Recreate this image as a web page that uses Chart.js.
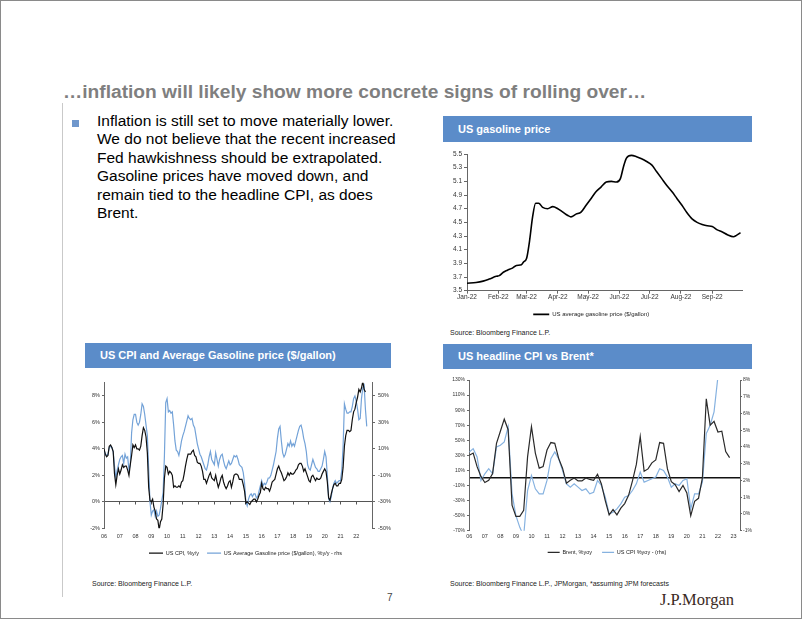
<!DOCTYPE html>
<html>
<head>
<meta charset="utf-8">
<script src="https://cdn.jsdelivr.net/npm/chart.js@4.4.0/dist/chart.umd.min.js"></script>
<style>
html,body{margin:0;padding:0;background:#fff;}
body{width:802px;height:620px;position:relative;overflow:hidden;font-family:Arial,"Liberation Sans",sans-serif;}
.frame{position:absolute;left:0;top:0;width:800px;height:617px;border:1px solid #8a8a8a;}
.vline{position:absolute;left:62px;top:103px;width:1px;height:494px;background:#c9c9c9;}
.title{position:absolute;left:63px;top:80px;font-size:19.2px;font-weight:bold;color:#7f7f7f;white-space:nowrap;line-height:24px;}
.bullet{position:absolute;left:72px;top:120px;width:7px;height:7px;background:#6f97cc;}
.text{position:absolute;left:97px;top:112px;font-size:15.5px;line-height:18.4px;color:#000;white-space:nowrap;}
.bar{position:absolute;height:25px;background:#5b8cc9;color:#fff;font-weight:bold;font-size:11px;line-height:25px;padding-left:15px;box-sizing:border-box;white-space:nowrap;}
.src{position:absolute;font-size:7px;color:#222;white-space:nowrap;}
.page{position:absolute;left:387px;top:592px;font-size:10px;color:#444;}
.logo{position:absolute;left:660px;top:590px;font-family:"Liberation Serif","DejaVu Serif",serif;font-size:16.5px;color:#3b2a1e;white-space:nowrap;}
canvas{position:absolute;}
</style>
</head>
<body>
<div class="frame"></div>
<div class="vline"></div>
<div class="title">…inflation will likely show more concrete signs of rolling over…</div>
<div class="bullet"></div>
<div class="text">Inflation is still set to move materially lower.<br>We do not believe that the recent increased<br>Fed hawkishness should be extrapolated.<br>Gasoline prices have moved down, and<br>remain tied to the headline CPI, as does<br>Brent.</div>

<div class="bar" style="left:443px;top:116px;width:309px;height:26px;line-height:26px;">US gasoline price</div>
<div class="bar" style="left:85px;top:343px;width:306px;">US CPI and Average Gasoline price ($/gallon)</div>
<div class="bar" style="left:443px;top:344px;width:309px;">US headline CPI vs Brent*</div>

<canvas id="c1" width="327" height="183" style="left:440px;top:145px;"></canvas>
<canvas id="c2" width="323" height="194" style="left:84px;top:372px;"></canvas>
<canvas id="c3" width="322" height="196" style="left:446px;top:370px;"></canvas>

<div class="src" style="left:450px;top:329px;">Source: Bloomberg Finance L.P.</div>
<div class="src" style="left:92px;top:580px;">Source: Bloomberg Finance L.P.</div>
<div class="src" style="left:450px;top:580px;">Source: Bloomberg Finance L.P., JPMorgan, *assuming JPM forecasts</div>
<div class="page">7</div>
<div class="logo">J.P.Morgan</div>

<script>
// ---------------- Chart 1: US gasoline price, 2022 (x = day of year) ----------------
const gasDays  = [0,9,16,22,29,32,36,40,45,49,54,56,59,62,65,68,71,75,80,85,90,95,100,103,108,113,118,123,128,133,138,143,148,152,155,158,163,168,173,178,183,188,193,198,203,208,213,218,223,228,233,238,243,248,253,258,264,267,271];
const gasPrice = [3.61,3.62,3.64,3.67,3.71,3.72,3.77,3.80,3.83,3.87,3.88,3.92,3.97,4.23,4.58,4.78,4.78,4.72,4.70,4.73,4.70,4.65,4.60,4.58,4.62,4.65,4.75,4.85,4.95,5.02,5.09,5.10,5.09,5.14,5.31,5.44,5.48,5.46,5.43,5.39,5.34,5.24,5.14,5.04,4.95,4.85,4.75,4.64,4.55,4.50,4.47,4.45,4.44,4.39,4.36,4.32,4.29,4.31,4.35];
const monthStarts = [0,31,59,90,120,151,181,212,243];
const monthLabels = ['Jan-22','Feb-22','Mar-22','Apr-22','May-22','Jun-22','Jul-22','Aug-22','Sep-22'];
const gasTicks = [3.5,3.7,3.9,4.1,4.3,4.5,4.7,4.9,5.1,5.3,5.5];

// ---------------- Chart 2: US CPI y/y (lhs) and gasoline price y/y (rhs), monthly from Jan 2006 ----------------
const cpiMonthly = [
 4.0,3.6,3.4,3.5,4.2,4.3,4.1,3.8,2.1,1.3,2.0,2.5,   // 2006
 2.1,2.4,2.8,2.6,2.7,2.7,2.4,2.0,2.8,3.5,4.3,4.1,   // 2007
 4.3,4.0,4.0,3.9,4.2,5.0,5.6,5.4,4.9,3.7,1.1,0.1,   // 2008
 0.0,0.2,-0.4,-0.7,-1.3,-1.4,-2.1,-1.5,-1.3,-0.2,1.8,2.7, // 2009
 2.6,2.1,2.3,2.2,2.0,1.1,1.2,1.1,1.1,1.2,1.1,1.5,   // 2010
 1.6,2.1,2.7,3.2,3.6,3.6,3.6,3.8,3.9,3.5,3.4,3.0,   // 2011
 2.9,2.9,2.7,2.3,1.7,1.7,1.4,1.7,2.0,2.2,1.8,1.7,   // 2012
 1.6,2.0,1.5,1.1,1.4,1.8,2.0,1.5,1.2,1.0,1.2,1.5,   // 2013
 1.6,1.1,1.5,2.0,2.1,2.1,2.0,1.7,1.7,1.7,1.3,0.8,   // 2014
 -0.1,0.0,-0.1,-0.2,0.0,0.1,0.2,0.2,0.0,0.2,0.5,0.7, // 2015
 1.4,1.0,0.9,1.1,1.0,1.0,0.8,1.1,1.5,1.6,1.7,2.1,   // 2016
 2.5,2.7,2.4,2.2,1.9,1.6,1.7,1.9,2.2,2.0,2.2,2.1,   // 2017
 2.1,2.2,2.4,2.5,2.8,2.9,2.9,2.7,2.3,2.5,2.2,1.9,   // 2018
 1.6,1.5,1.9,2.0,1.8,1.6,1.8,1.7,1.7,1.8,2.1,2.3,   // 2019
 2.5,2.3,1.5,0.3,0.1,0.6,1.0,1.3,1.4,1.2,1.2,1.4,   // 2020
 1.4,1.7,2.6,4.2,5.0,5.4,5.4,5.3,5.4,6.2,6.8,7.0,   // 2021
 7.5,7.9,8.5,8.3,8.6,9.1,8.5,8.3                    // 2022
];
const gasYoYMonthly = [
 9,6,5,6,11,12,11,8,-3,-12,-6,-2,          // 2006
 2,4,5,-1,6,3,4,-6,-2,22,32,36,            // 2007
 36,30,28,30,36,44,42,36,28,20,-5,-30,     // 2008
 -40,-37,-36,-41,-37,-41,-40,-35,-29,-23,5,45, // 2009
 48,38,39,37,38,28,16,9,8,5,10,16,         // 2010
 20,23,27,31,35,33,32,33,28,26,20,14,      // 2011
 10,6,4,1,-2,-5,-6,-2,4,8,2,0,             // 2012
 -2,7,2,-3,2,5,6,1,-3,-5,-2,1,             // 2013
 -2,-1,2,5,4,5,2,-2,-3,-4,-8,-16,          // 2014
 -30,-33,-28,-25,-24,-26,-24,-24,-27,-26,-22,-18, // 2015
 -14,-18,-16,-17,-15,-12,-12,-10,-6,-2,3,8,  // 2016
 18,25,27,16,7,4,6,10,14,12,16,12,         // 2017
 14,12,16,20,24,27,28,24,18,14,8,-2,       // 2018
 -5,-6,-2,2,-1,-4,-5,-7,-7,-5,-3,2,        // 2019
 8,4,-10,-28,-30,-26,-20,-16,-14,-16,-15,-14, // 2020
 -14,-6,12,44,40,37,37,38,38,42,48,50,     // 2021
 46,40,32,33,48,56,58,40,27                // 2022
];
const yearTicks2 = [2006,2007,2008,2009,2010,2011,2012,2013,2014,2015,2016,2017,2018,2019,2020,2021,2022];
const cpiTicks2 = [-2,0,2,4,6,8];
const gasTicks2 = [-50,-30,-10,10,30,50];

// ---------------- Chart 3: Brent %yoy (lhs) and US CPI %yoy (rhs), quarterly from 2006 Q1 ----------------
const brentQuarterly = [
 30,33,15,2,  -6,-3,6,46,  62,78,64,-36,  -51,-51,-43,28,  68,33,13,15,  37,47,46,26,
 13,-7,-3,0,  -4,-4,0,-2,  -3,5,-8,-30,  -49,-42,-49,-40,  -34,-23,-4,18,  55,9,12,20,
 24,47,46,12,  -5,-9,-18,-10,  -20,-50,-31,-27,  0,105,70,75,  61,62,35,27
];
const cpiQuarterly = [
 3.7,3.9,3.4,2.0,  2.4,2.7,2.4,4.0,  4.1,4.3,5.2,1.2,  -0.1,-0.8,-1.3,1.4,  2.3,1.5,1.2,1.2,  2.0,3.3,3.7,3.3,
 2.6,1.8,1.6,1.8,  1.6,1.4,1.5,1.2,  1.3,2.0,1.7,1.0,  0.0,0.1,0.3,0.6,  1.0,1.1,1.4,1.8,  2.5,1.9,2.0,2.1,
 2.2,2.7,2.6,2.2,  1.6,1.8,1.7,2.0,  2.1,0.3,1.2,1.2,  1.9,4.8,5.3,6.1,  8.2,8.7
];
const yearTicks3 = [2006,2007,2008,2009,2010,2011,2012,2013,2014,2015,2016,2017,2018,2019,2020,2021,2022,2023];
const brentTicks3 = [-70,-50,-30,-10,10,30,50,70,90,110,130];
const cpiTicks3 = [-1,0,1,2,3,4,5,6,7,8];

// ---------------- helpers ----------------
const FONT = 'Arial, "Liberation Sans", sans-serif';
Chart.defaults.font.family = FONT;
Chart.defaults.color = '#333';
const setTicks = arr => (s => { s.ticks = arr.map(v => ({value: v})); });
const yy = v => String(Math.round(v) % 100).padStart(2, '0');
const startYear = 2006;

// Chart 1
new Chart(document.getElementById('c1'), {
  type: 'line',
  data: { datasets: [{
    label: 'US average gasoline price ($/gallon)',
    data: gasDays.map((d, i) => ({x: d, y: gasPrice[i]})),
    borderColor: '#000', borderWidth: 1.6, pointRadius: 0, cubicInterpolationMode: 'monotone', fill: false
  }]},
  options: {
    responsive: false, animation: false,
    layout: { padding: {top: 9, right: 24.5, bottom: 0.6, left: 0} },
    plugins: {
      legend: { position: 'bottom', labels: { usePointStyle: true, pointStyle: 'line', pointStyleWidth: 16, boxHeight: 6, font: {size: 6}, padding: 10.7, color: '#222' } },
      tooltip: { enabled: false }
    },
    scales: {
      x: { type: 'linear', min: 0, max: 273,
        afterBuildTicks: setTicks(monthStarts),
        ticks: { callback: v => monthLabels[monthStarts.indexOf(v)], font: {size: 6.5}, padding: 0, maxRotation: 0, autoSkip: false, color: '#333' },
        grid: { display: true, drawOnChartArea: false, tickLength: 3, color: '#666' },
        border: { color: '#666', width: 1 },
        afterFit: s => { s.height = 10; } },
      y: { min: 3.5, max: 5.5,
        afterBuildTicks: setTicks(gasTicks),
        ticks: { callback: v => v.toFixed(1), font: {size: 6.5}, padding: 2, color: '#333' },
        grid: { display: true, drawOnChartArea: false, tickLength: 3, color: '#666' },
        border: { color: '#666', width: 1 },
        afterFit: s => { s.width = 27; } }
    }
  }
});

// Chart 2
new Chart(document.getElementById('c2'), {
  type: 'line',
  data: { datasets: [
    { label: 'US CPI, %y/y', yAxisID: 'y',
      data: cpiMonthly.map((v, i) => ({x: startYear + i / 12, y: v})),
      borderColor: '#111', borderWidth: 1.2, pointRadius: 0, tension: 0 },
    { label: 'US Average Gasoline price ($/gallon), %y/y - rhs', yAxisID: 'y2',
      data: gasYoYMonthly.map((v, i) => ({x: startYear + i / 12, y: v})),
      borderColor: '#74a3d8', borderWidth: 1.2, pointRadius: 0, tension: 0 }
  ]},
  options: {
    responsive: false, animation: false,
    layout: { padding: {top: 10.7, right: 0, bottom: 0.2, left: 0} },
    plugins: {
      legend: { position: 'bottom', labels: { usePointStyle: true, pointStyle: 'line', pointStyleWidth: 14, boxHeight: 5.5, font: {size: 5.5}, padding: 8, color: '#222' } },
      tooltip: { enabled: false }
    },
    scales: {
      x: { type: 'linear', min: 2006, max: 2023, position: 'bottom',
        afterBuildTicks: setTicks(yearTicks2),
        ticks: { callback: yy, font: {size: 5.5}, padding: 5.2, maxRotation: 0, autoSkip: false, color: '#333' },
        grid: { display: false, drawTicks: false, tickLength: 0 },
        border: { display: false },
        afterFit: s => { s.height = 14; } },
      xZero: { type: 'linear', axis: 'x', min: 2006, max: 2023, position: { y: 0 },
        afterBuildTicks: setTicks(yearTicks2),
        ticks: { display: false },
        grid: { display: true, drawOnChartArea: false, tickLength: 2.5, color: '#555' },
        border: { display: true, color: '#555', width: 1 },
        afterFit: s => { s.height = 0; } },
      y: { position: 'left', min: -2, max: 9,
        afterBuildTicks: setTicks(cpiTicks2),
        ticks: { callback: v => v + '%', font: {size: 5.5}, padding: 2, color: '#333' },
        grid: { display: true, drawOnChartArea: false, tickLength: 2, color: '#666' },
        border: { color: '#666', width: 1 },
        afterFit: s => { s.width = 20; } },
      y2: { position: 'right', min: -50, max: 60,
        afterBuildTicks: setTicks(gasTicks2),
        ticks: { callback: v => v + '%', font: {size: 5.5}, padding: 3, color: '#333' },
        grid: { display: true, drawOnChartArea: false, tickLength: 3, color: '#666' },
        border: { color: '#666', width: 1 },
        afterFit: s => { s.width = 35; } }
    }
  }
});

// Chart 3
new Chart(document.getElementById('c3'), {
  type: 'line',
  data: { datasets: [
    { label: 'Brent, %yoy', yAxisID: 'y',
      data: brentQuarterly.map((v, i) => ({x: startYear + i / 4, y: v})),
      borderColor: '#2a2a2a', borderWidth: 1.2, pointRadius: 0, tension: 0 },
    { label: 'US CPI %yoy - (rhs)', yAxisID: 'y2',
      data: cpiQuarterly.map((v, i) => ({x: startYear + i / 4, y: v})),
      borderColor: '#86b2e0', borderWidth: 1.2, pointRadius: 0, tension: 0 }
  ]},
  options: {
    responsive: false, animation: false,
    layout: { padding: {top: 10, right: 0, bottom: 0.8, left: 0} },
    plugins: {
      legend: { position: 'bottom', labels: { usePointStyle: true, pointStyle: 'line', pointStyleWidth: 12, boxHeight: 5.5, font: {size: 5.5}, padding: 10, color: '#222' } },
      tooltip: { enabled: false }
    },
    scales: {
      x: { type: 'linear', min: 2006, max: 2023.42, position: 'bottom',
        afterBuildTicks: setTicks(yearTicks3),
        ticks: { callback: yy, font: {size: 5.5}, padding: 2.3, maxRotation: 0, autoSkip: false, color: '#333' },
        grid: { display: false, drawTicks: false, tickLength: 0 },
        border: { display: false },
        afterFit: s => { s.height = 9; } },
      xZero: { type: 'linear', axis: 'x', min: 2006, max: 2023.42, position: { y: 0 },
        ticks: { display: false },
        grid: { display: false, drawTicks: false, tickLength: 0 },
        border: { display: true, color: '#111', width: 1.5 },
        afterFit: s => { s.height = 0; } },
      y: { position: 'left', min: -70, max: 130,
        afterBuildTicks: setTicks(brentTicks3),
        ticks: { callback: v => v + '%', font: {size: 5}, padding: 2, color: '#333' },
        grid: { display: true, drawOnChartArea: false, tickLength: 2.3, color: '#666' },
        border: { color: '#666', width: 1 },
        afterFit: s => { s.width = 23.3; } },
      y2: { position: 'right', min: -1, max: 8,
        afterBuildTicks: setTicks(cpiTicks3),
        ticks: { callback: v => v + '%', font: {size: 5}, padding: 1, color: '#333' },
        grid: { display: true, drawOnChartArea: false, tickLength: 2, color: '#666' },
        border: { color: '#666', width: 1 },
        afterFit: s => { s.width = 28; } }
    }
  }
});
</script>
</body>
</html>
